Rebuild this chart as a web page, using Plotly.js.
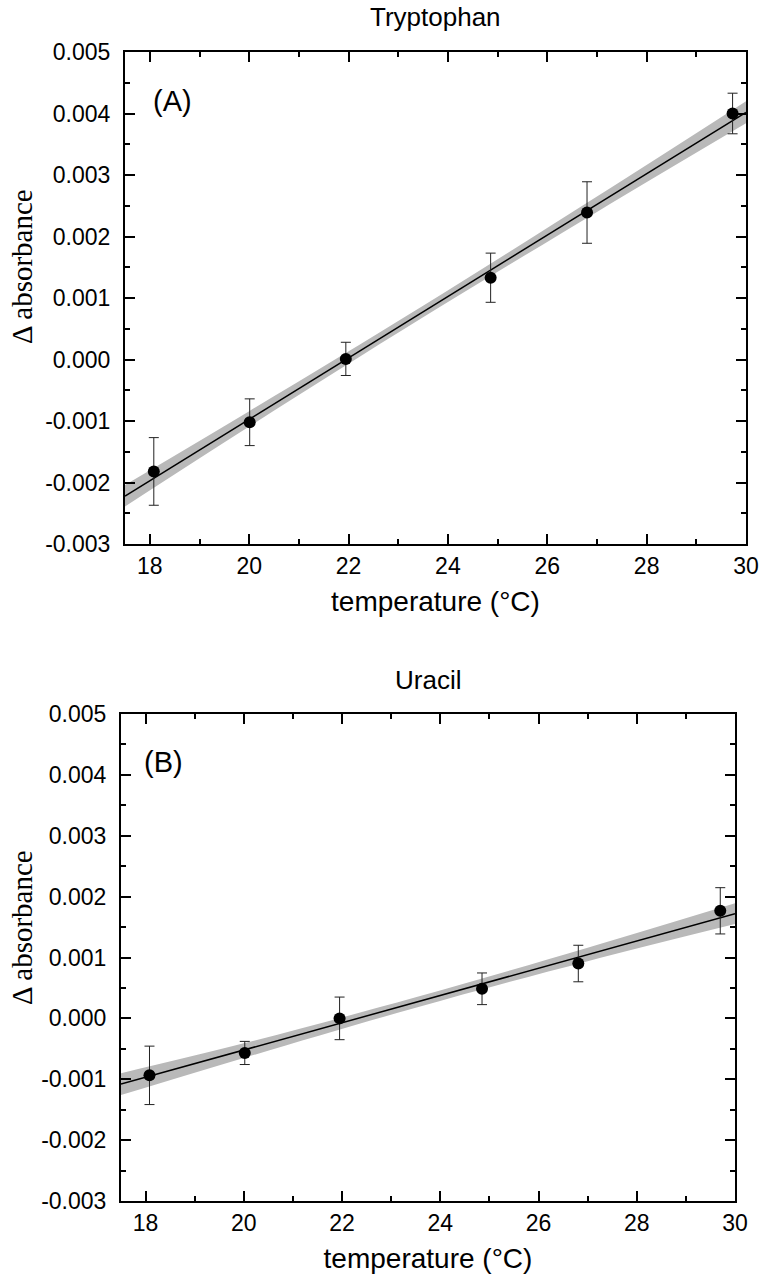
<!DOCTYPE html>
<html>
<head>
<meta charset="utf-8">
<script src="https://cdn.plot.ly/plotly-3.0.1.min.js"></script>
<style>html,body{margin:0;padding:0;background:#fff;}#chart{width:764px;height:1279px;}</style>
</head>
<body>
<div id="chart"></div>
<script>
// ---- data ----
var tempA = [18.08, 20.01, 21.945, 24.86, 26.80, 29.73];
var absA = [-0.00182, -0.00102, 0.00001, 0.00133, 0.00239, 0.00400];
var errA = [0.00055, 0.00038, 0.00027, 0.00040, 0.00050, 0.00033];
var fitXA = [17.5, 30];
var fitYA = [-0.00222, 0.00402];
var bandXA = [17.5, 20, 23.5, 27, 30];
var bandUpA = [-0.00204, -0.00084, 0.000875, 0.00265, 0.00420];
var bandLoA = [-0.00239, -0.00109, 0.000685, 0.00240, 0.00384];

var tempB = [18.08, 20.02, 21.95, 24.85, 26.81, 29.70];
var absB = [-0.000936, -0.000568, 0.0, 0.000486, 0.000901, 0.001767];
var errB = [0.00048, 0.00019, 0.00035, 0.00026, 0.00030, 0.00038];
var fitXB = [17.5, 30];
var fitYB = [-0.00108, 0.00172];
var bandXB = [17.5, 20, 23.5, 27, 30];
var bandUpB = [-0.00090, -0.00041, 0.000345, 0.00116, 0.00189];
var bandLoB = [-0.00126, -0.00065, 0.000175, 0.00094, 0.00155];

var titles = ['Tryptophan', 'Uracil'];
var panelLabels = ['(A)', '(B)'];
var xTitle = 'temperature (°C)';
var yTitle = 'Δ absorbance';
var xTickVals = [18, 20, 22, 24, 26, 28, 30];
var xTickText = ['18', '20', '22', '24', '26', '28', '30'];
var yTickVals = [-0.003, -0.002, -0.001, 0, 0.001, 0.002, 0.003, 0.004, 0.005];
var yTickText = ['-0.003', '-0.002', '-0.001', '0.000', '0.001', '0.002', '0.003', '0.004', '0.005'];

var W = 764, H = 1279;
var bandColor = 'rgb(185,185,185)';

function panelTraces(bx, up, lo, fx, fy, tx, ty, te, xa, ya) {
  return [
    {x: bx, y: lo, xaxis: xa, yaxis: ya, mode: 'lines', line: {width: 0, shape: 'spline', color: bandColor}, hoverinfo: 'skip', showlegend: false},
    {x: bx, y: up, xaxis: xa, yaxis: ya, mode: 'lines', fill: 'tonexty', fillcolor: bandColor, line: {width: 0, shape: 'spline', color: bandColor}, hoverinfo: 'skip', showlegend: false},
    {x: fx, y: fy, xaxis: xa, yaxis: ya, mode: 'lines', line: {color: '#000', width: 1.5}, showlegend: false},
    {x: tx, y: ty, xaxis: xa, yaxis: ya, mode: 'markers', marker: {color: '#000', size: 12},
     error_y: {type: 'data', array: te, visible: true, color: '#222', thickness: 1, width: 5}, showlegend: false}
  ];
}

var traces = [].concat(
  panelTraces(bandXA, bandUpA, bandLoA, fitXA, fitYA, tempA, absA, errA, 'x', 'y'),
  panelTraces(bandXB, bandUpB, bandLoB, fitXB, fitYB, tempB, absB, errB, 'x2', 'y2')
);

var sans = 'Liberation Sans, Arial, sans-serif';
var tickFont = {family: sans, size: 23, color: '#000'};
var xTitleFont = {family: sans, size: 28, color: '#000'};
var yTitleFont = {family: 'Liberation Serif, Times New Roman, serif', size: 29, color: '#000'};

function xAxis(domain, anchor) {
  return {
    domain: domain, anchor: anchor, range: [17.5, 30],
    tickmode: 'array', tickvals: xTickVals, ticktext: xTickText,
    ticks: 'inside', ticklen: 10, tickwidth: 2, tickcolor: '#000',
    minor: {ticks: 'inside', ticklen: 5, tickwidth: 2, tickcolor: '#000', tickvals: [19, 21, 23, 25, 27, 29]},
    showline: true, linewidth: 2, linecolor: '#000', mirror: 'allticks',
    showgrid: false, zeroline: false, tickfont: tickFont,
    title: {text: xTitle, font: xTitleFont, standoff: 14},
    automargin: false, fixedrange: true
  };
}
function yAxis(domain, anchor) {
  return {
    domain: domain, anchor: anchor, range: [-0.003, 0.005],
    tickmode: 'array', tickvals: yTickVals, ticktext: yTickText,
    ticks: 'inside', ticklen: 10, tickwidth: 2, tickcolor: '#000',
    minor: {ticks: 'inside', ticklen: 5, tickwidth: 2, tickcolor: '#000',
            tickvals: [-0.0025, -0.0015, -0.0005, 0.0005, 0.0015, 0.0025, 0.0035, 0.0045]},
    showline: true, linewidth: 2, linecolor: '#000', mirror: 'allticks',
    showgrid: false, zeroline: false, tickfont: tickFont, ticklabelstandoff: 8,
    automargin: false, fixedrange: true
  };
}

var layout = {
  width: W, height: H,
  margin: {l: 0, r: 0, t: 0, b: 0},
  paper_bgcolor: '#fff', plot_bgcolor: '#fff',
  showlegend: false,
  xaxis: xAxis([125 / W, 746 / W], 'y'),
  yaxis: yAxis([1 - 544 / H, 1 - 52 / H], 'x'),
  xaxis2: xAxis([121 / W, 735 / W], 'y2'),
  yaxis2: yAxis([1 - 1201 / H, 1 - 714 / H], 'x2'),
  annotations: [
    {text: titles[0], xref: 'paper', yref: 'paper', x: (125 + 746) / 2 / W, y: 1 - 17 / H, xanchor: 'center', yanchor: 'middle', showarrow: false, font: {family: sans, size: 26, color: '#000'}},
    {text: titles[1], xref: 'paper', yref: 'paper', x: (121 + 735) / 2 / W, y: 1 - 680 / H, xanchor: 'center', yanchor: 'middle', showarrow: false, font: {family: sans, size: 26, color: '#000'}},
    {text: panelLabels[0], xref: 'x', yref: 'y', x: 18.02, y: 0.0042, xanchor: 'left', yanchor: 'middle', showarrow: false, font: {family: sans, size: 29, color: '#000'}},
    {text: panelLabels[1], xref: 'x2', yref: 'y2', x: 17.92, y: 0.00421, xanchor: 'left', yanchor: 'middle', showarrow: false, font: {family: sans, size: 29, color: '#000'}},
    {text: yTitle, xref: 'paper', yref: 'paper', x: 22 / W, y: 1 - 267 / H, xanchor: 'center', yanchor: 'middle', textangle: -90, showarrow: false, font: yTitleFont},
    {text: yTitle, xref: 'paper', yref: 'paper', x: 22 / W, y: 1 - 928 / H, xanchor: 'center', yanchor: 'middle', textangle: -90, showarrow: false, font: yTitleFont}
  ]
};

Plotly.newPlot('chart', traces, layout, {displayModeBar: false, staticPlot: true});
</script>
</body>
</html>
